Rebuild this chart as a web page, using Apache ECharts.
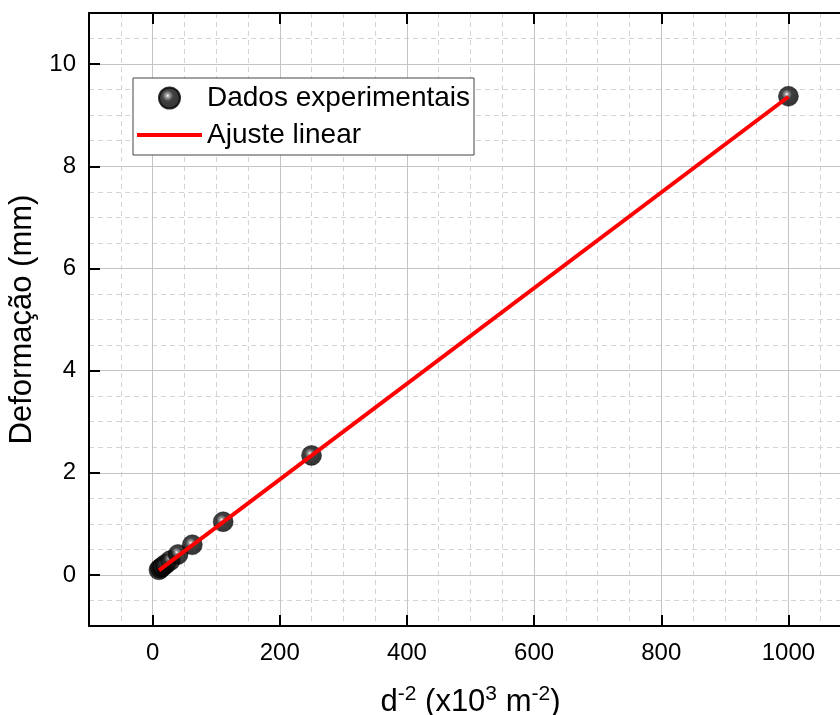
<!DOCTYPE html>
<html>
<head>
<meta charset="utf-8">
<script src="https://cdn.jsdelivr.net/npm/echarts@6/dist/echarts.min.js"></script>
<style>html,body{margin:0;padding:0;background:#fff}#c{width:840px;height:715px}</style>
</head>
<body>
<div id="c"></div>
<script>
// Data
const dataX = [10, 12.3, 15.6, 20.4, 27.8, 40, 62.5, 111, 250, 1000];
const dataY = [0.10, 0.13, 0.16, 0.21, 0.28, 0.40, 0.59, 1.04, 2.34, 9.37];
const fitX = [10, 1000];
const fitY = [0.09, 9.36];
const majorX = [0, 200, 400, 600, 800, 1000];
const majorY = [0, 2, 4, 6, 8, 10];
const seriesNames = ['Dados experimentais', 'Ajuste linear'];

const FONT = 'Liberation Sans, Arial, sans-serif';
const chart = echarts.init(document.getElementById('c'));

const ball = {
  type: 'radial', x: 0.42, y: 0.4, r: 0.6,
  colorStops: [
    {offset: 0, color: '#ffffff'},
    {offset: 0.14, color: '#8a8a8a'},
    {offset: 0.4, color: '#111111'},
    {offset: 1, color: '#000000'}
  ]
};

const axisCommon = {
  type: 'value',
  axisLine: {show: true, onZero: false, lineStyle: {color: '#000', width: 2}},
  axisTick: {show: true, inside: true, length: 11, lineStyle: {color: '#000', width: 2}},
};
const minorAxis = {
  type: 'value', show: true,
  axisLine: {show: false}, axisTick: {show: false}, axisLabel: {show: false},
  splitLine: {show: true, lineStyle: {color: '#d4d4d4', type: [5, 4], width: 1}}
};
const lab = v => String(v);

const option = {
  animation: false,
  backgroundColor: '#fff',
  grid: {left: 89, right: -12, top: 13, bottom: 89, containLabel: false, outerBoundsMode: 'none'},
  legend: {
    data: [
      {name: seriesNames[0], icon: 'circle'},
      {name: seriesNames[1], icon: 'path://M0,9 L65,9 L65,13 L0,13 Z', itemStyle: {color: '#ff0000'}}
    ],
    orient: 'vertical',
    left: 133, top: 78,
    itemWidth: 65, itemHeight: 21, itemGap: 9,
    padding: [6, 4, 6, 4],
    borderColor: '#444', borderWidth: 1, backgroundColor: '#fff',
    textStyle: {fontFamily: FONT, fontSize: 28, color: '#000'},
    selectedMode: false
  },
  xAxis: [
    Object.assign({}, axisCommon, {
      min: -100, max: 1100, interval: 50, position: 'bottom', z: 3,
      axisTick: Object.assign({}, axisCommon.axisTick, {customValues: majorX}),
      axisLabel: {customValues: majorX, formatter: lab, fontFamily: FONT, fontSize: 24, color: '#000', margin: 15},
      splitLine: {show: true, lineStyle: {color: '#c4c4c4', type: 'solid', width: 1}},
      name: '{n|d}{s|-2}{n| (x10}{s|3}{n| m}{s|-2}{n|)}',
      nameLocation: 'middle', nameGap: 56,
      nameTextStyle: {
        rich: {
          n: {fontFamily: FONT, fontSize: 31, color: '#000', verticalAlign: 'bottom', lineHeight: 36},
          s: {fontFamily: FONT, fontSize: 21, color: '#000', verticalAlign: 'bottom', lineHeight: 36, padding: [0, 0, 13, 0]}
        }
      }
    }),
    Object.assign({}, axisCommon, {
      min: -100, max: 1100, interval: 50, position: 'top', z: 3,
      axisTick: Object.assign({}, axisCommon.axisTick, {customValues: majorX}),
      axisLabel: {show: false},
      splitLine: {show: false}
    }),
    Object.assign({}, minorAxis, {min: -100, max: 1100, interval: 50, position: 'bottom', z: 1})
  ],
  yAxis: [
    Object.assign({}, axisCommon, {
      min: -1, max: 11, interval: 0.5, position: 'left', z: 3,
      axisTick: Object.assign({}, axisCommon.axisTick, {customValues: majorY}),
      axisLabel: {customValues: majorY, formatter: lab, fontFamily: FONT, fontSize: 24, color: '#000', margin: 13},
      splitLine: {show: true, lineStyle: {color: '#c4c4c4', type: 'solid', width: 1}},
      name: 'Deformação (mm)',
      nameLocation: 'middle', nameGap: 44,
      nameTextStyle: {fontFamily: FONT, fontSize: 31, color: '#000'}
    }),
    Object.assign({}, axisCommon, {
      min: -1, max: 11, interval: 0.5, position: 'right', z: 3,
      axisTick: Object.assign({}, axisCommon.axisTick, {customValues: majorY}),
      axisLabel: {show: false},
      splitLine: {show: false}
    }),
    Object.assign({}, minorAxis, {min: -1, max: 11, interval: 0.5, position: 'left', z: 1})
  ],
  series: [
    {
      name: seriesNames[0], type: 'scatter', z: 5,
      symbol: 'circle', symbolSize: 20,
      itemStyle: {color: ball, borderColor: '#000', borderWidth: 0.5},
      data: dataX.map((x, i) => [x, dataY[i]])
    },
    {
      name: seriesNames[1], type: 'line', z: 6,
      symbol: 'none', showSymbol: false,
      lineStyle: {color: '#ff0000', width: 4},
      itemStyle: {color: '#ff0000'},
      data: fitX.map((x, i) => [x, fitY[i]])
    }
  ]
};
chart.setOption(option);
</script>
</body>
</html>
